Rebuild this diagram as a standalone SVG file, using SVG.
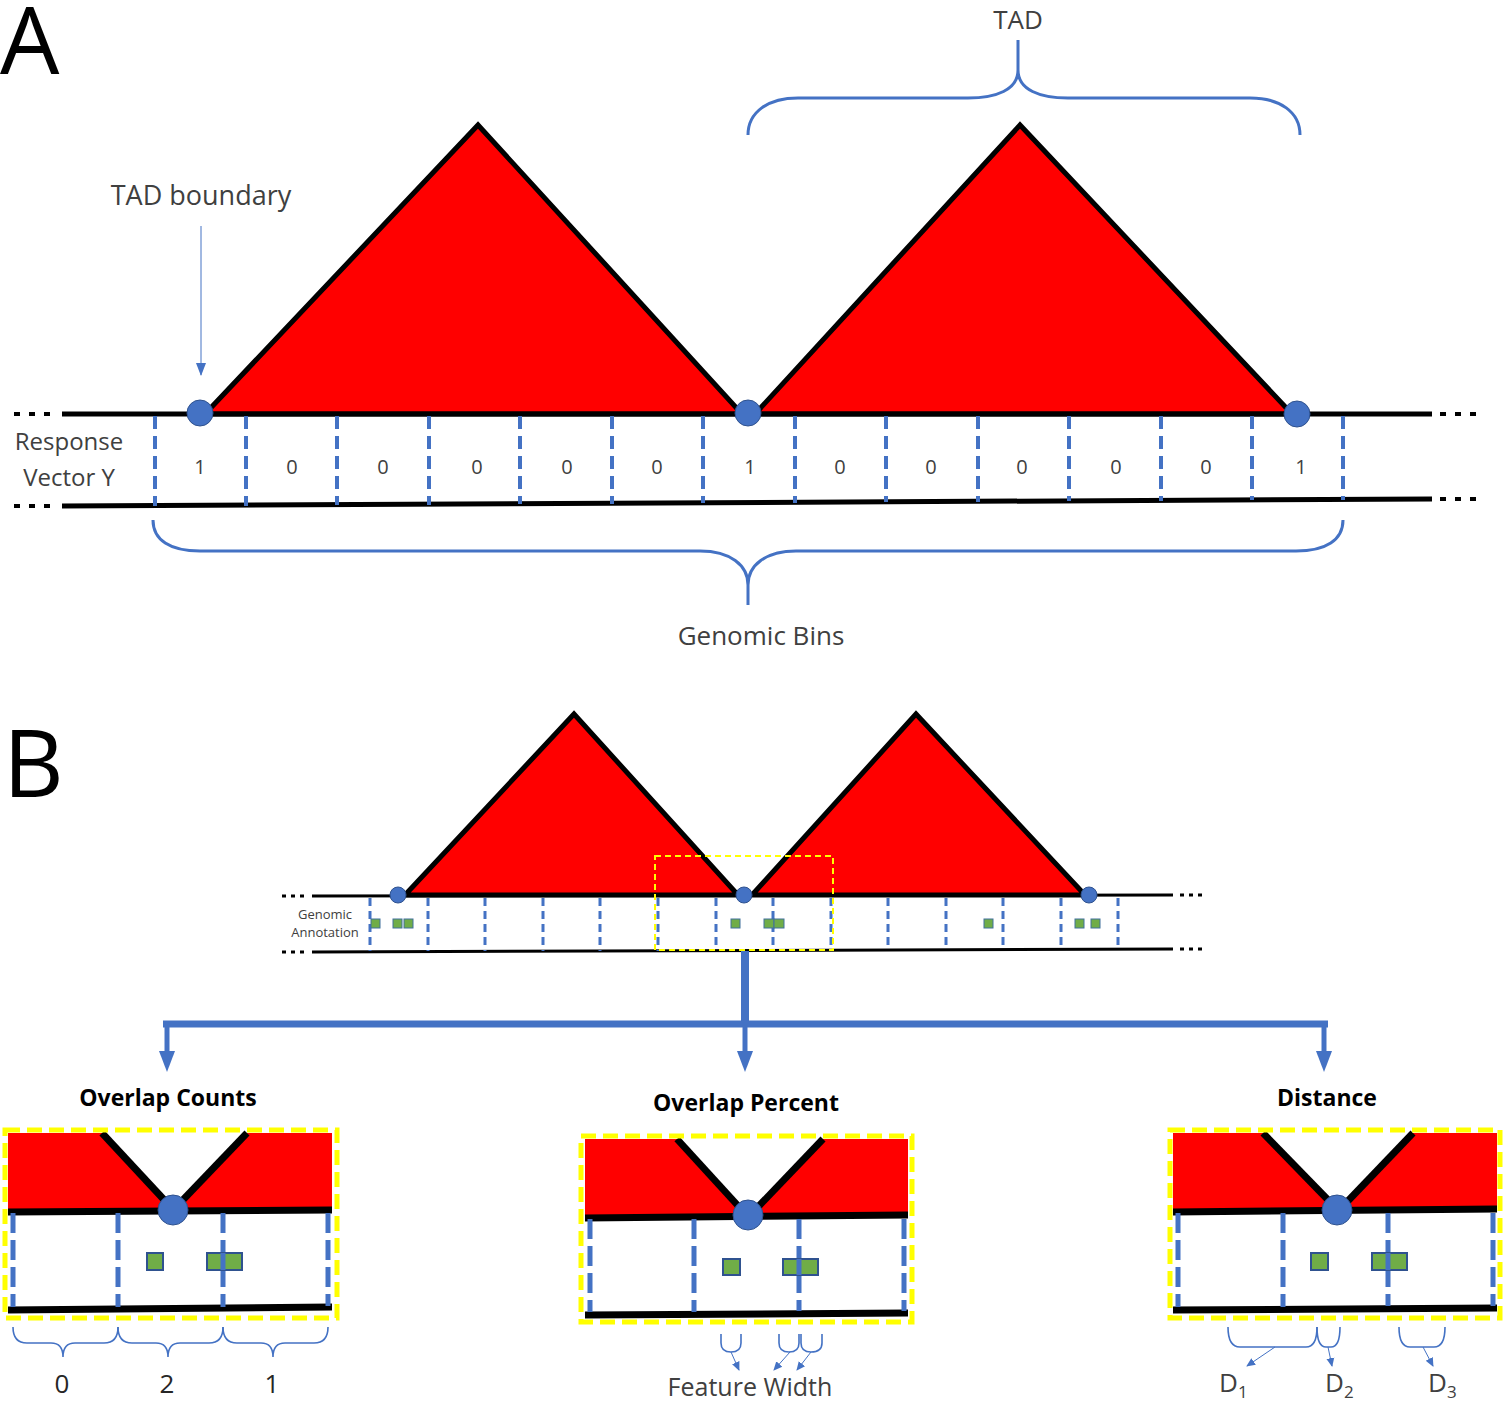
<svg xmlns="http://www.w3.org/2000/svg" width="1503" height="1401" viewBox="0 0 1503 1401">
<defs>
<style>
.t{font-family:"Open Sans",Lato,"Liberation Sans",sans-serif;fill:#404040}
.big{font-family:"Open Sans",Lato,"Liberation Sans",sans-serif;fill:#000;font-size:94px}
.ttl{font-family:"Open Sans",Lato,"Liberation Sans",sans-serif;fill:#000;font-size:23px;font-weight:bold}
.tri{fill:#FF0000;stroke:#000;stroke-width:5;stroke-linejoin:miter}
.blk{stroke:#000;fill:none}
.dots{stroke:#000;stroke-dasharray:6 9;fill:none}
.dashA{stroke:#4472C4;stroke-width:4;stroke-dasharray:13 7;fill:none}
.dashB{stroke:#4472C4;stroke-width:3;stroke-dasharray:8 5;fill:none}
.dashP{stroke:#4472C4;stroke-width:5;stroke-dasharray:20 7;fill:none}
.bnd{fill:#4472C4;stroke:#2F528F;stroke-width:1}
.gr{fill:#70AD47;stroke:#41719C;stroke-width:1}
.grp{fill:#70AD47;stroke:#2F528F;stroke-width:2}
.ylw{fill:none;stroke:#FFFF00;stroke-width:5;stroke-dasharray:15 7}
.brace{fill:none;stroke:#4472C4;stroke-width:1.6}
.brace2{fill:none;stroke:#4472C4;stroke-width:3}
.thin{stroke:#4472C4;stroke-width:1;fill:none}
</style>
<marker id="ah" markerWidth="10" markerHeight="10" refX="8" refY="5" orient="auto" markerUnits="userSpaceOnUse">
<path d="M0,1 L9,5 L0,9 Z" fill="#4472C4"/>
</marker>
<marker id="ah2" markerWidth="14" markerHeight="14" refX="12" refY="7" orient="auto" markerUnits="userSpaceOnUse">
<path d="M0,2 L13,7 L0,12 Z" fill="#4472C4"/>
</marker>
</defs>

<!-- Panel A -->
<g id="label-A"><text class="big" x="0" y="74">A</text></g>

<g id="A-tads">
<polygon class="tri" points="205,414 478,125 742,414"/>
<polygon class="tri" points="755,414 1020,125 1292,414"/>
</g>

<g id="A-track">
<line class="blk" x1="62" y1="414" x2="1432" y2="414" stroke-width="5"/>
<line class="blk" x1="62" y1="506" x2="1432" y2="499" stroke-width="5"/>
<line class="dots" x1="14" y1="414" x2="56" y2="414" stroke-width="4"/>
<line class="dots" x1="14" y1="506" x2="56" y2="506" stroke-width="4"/>
<line class="dots" x1="1440" y1="414" x2="1482" y2="414" stroke-width="4"/>
<line class="dots" x1="1440" y1="499" x2="1482" y2="499" stroke-width="4"/>
</g>

<g id="A-bins">
<line class="dashA" x1="155" y1="416" x2="155" y2="506"/>
<line class="dashA" x1="246" y1="416" x2="246" y2="506"/>
<line class="dashA" x1="337" y1="416" x2="337" y2="505"/>
<line class="dashA" x1="429" y1="416" x2="429" y2="505"/>
<line class="dashA" x1="520" y1="416" x2="520" y2="504"/>
<line class="dashA" x1="612" y1="416" x2="612" y2="504"/>
<line class="dashA" x1="703" y1="416" x2="703" y2="503"/>
<line class="dashA" x1="795" y1="416" x2="795" y2="503"/>
<line class="dashA" x1="886" y1="416" x2="886" y2="502"/>
<line class="dashA" x1="978" y1="416" x2="978" y2="502"/>
<line class="dashA" x1="1069" y1="416" x2="1069" y2="501"/>
<line class="dashA" x1="1161" y1="416" x2="1161" y2="501"/>
<line class="dashA" x1="1252" y1="416" x2="1252" y2="500"/>
<line class="dashA" x1="1343" y1="416" x2="1343" y2="500"/>
</g>

<g id="A-boundaries">
<circle class="bnd" cx="200" cy="413" r="13"/>
<circle class="bnd" cx="748" cy="413" r="13"/>
<circle class="bnd" cx="1297" cy="414" r="13"/>
</g>

<g id="A-values" class="t" font-size="20" text-anchor="middle">
<text x="200" y="474">1</text>
<text x="292" y="474">0</text>
<text x="383" y="474">0</text>
<text x="477" y="474">0</text>
<text x="567" y="474">0</text>
<text x="657" y="474">0</text>
<text x="750" y="474">1</text>
<text x="840" y="474">0</text>
<text x="931" y="474">0</text>
<text x="1022" y="474">0</text>
<text x="1116" y="474">0</text>
<text x="1206" y="474">0</text>
<text x="1301" y="474">1</text>
</g>

<g id="A-response-label" class="t" font-size="24" text-anchor="middle">
<text x="69" y="450">Response</text>
<text x="69" y="486">Vector Y</text>
</g>

<g id="A-tad-boundary-label">
<text class="t" font-size="27" x="201" y="205" text-anchor="middle">TAD boundary</text>
</g>

<g id="A-tad-label">
<text class="t" font-size="26" x="1018" y="29" text-anchor="middle">TAD</text>
</g>

<g id="A-genomic-bins-label">
<text class="t" font-size="26" x="761" y="645" text-anchor="middle">Genomic Bins</text>
</g>

<g id="A-connectors">
<line class="thin" x1="201" y1="226" x2="201" y2="375" stroke-width="1.6" marker-end="url(#ah2)"/>
<path class="brace2" d="M748,135 C748,112 768,98 798,98 L968,98 C996,98 1018,90 1018,70 L1018,40 M1018,70 C1018,90 1040,98 1068,98 L1250,98 C1280,98 1300,112 1300,135"/>
<path class="brace2" d="M153,520 C153,540 170,551 200,551 L700,551 C730,551 748,565 748,585 L748,605 M748,585 C748,565 766,551 796,551 L1296,551 C1326,551 1343,540 1343,520"/>
</g>

<!-- Panel B -->
<g id="label-B"><text class="big" x="3" y="797">B</text></g>

<g id="B-tads">
<polygon class="tri" points="405,895 574,714 738,895" stroke-width="3"/>
<polygon class="tri" points="752,895 916,714 1085,895" stroke-width="3"/>
</g>

<g id="B-track">
<line class="blk" x1="312" y1="896" x2="1173" y2="895" stroke-width="3"/>
<line class="blk" x1="312" y1="952" x2="1173" y2="949" stroke-width="3"/>
<line class="dots" x1="282" y1="896" x2="308" y2="896" stroke-width="3" style="stroke-dasharray:4 5"/>
<line class="dots" x1="282" y1="952" x2="308" y2="952" stroke-width="3" style="stroke-dasharray:4 5"/>
<line class="dots" x1="1180" y1="895" x2="1206" y2="895" stroke-width="3" style="stroke-dasharray:4 5"/>
<line class="dots" x1="1180" y1="949" x2="1206" y2="949" stroke-width="3" style="stroke-dasharray:4 5"/>
</g>

<g id="B-bins">
<line class="dashB" x1="370" y1="898" x2="370" y2="951"/>
<line class="dashB" x1="428" y1="898" x2="428" y2="951"/>
<line class="dashB" x1="485" y1="898" x2="485" y2="951"/>
<line class="dashB" x1="543" y1="898" x2="543" y2="951"/>
<line class="dashB" x1="600" y1="898" x2="600" y2="951"/>
<line class="dashB" x1="658" y1="898" x2="658" y2="951"/>
<line class="dashB" x1="716" y1="898" x2="716" y2="950"/>
<line class="dashB" x1="773" y1="898" x2="773" y2="950"/>
<line class="dashB" x1="831" y1="898" x2="831" y2="950"/>
<line class="dashB" x1="888" y1="898" x2="888" y2="950"/>
<line class="dashB" x1="946" y1="898" x2="946" y2="950"/>
<line class="dashB" x1="1003" y1="898" x2="1003" y2="949"/>
<line class="dashB" x1="1061" y1="898" x2="1061" y2="949"/>
<line class="dashB" x1="1118" y1="898" x2="1118" y2="949"/>
</g>

<g id="B-annotations">
<rect class="gr" x="371" y="919" width="9" height="9"/>
<rect class="gr" x="393" y="919" width="9" height="9"/>
<rect class="gr" x="404" y="919" width="9" height="9"/>
<rect class="gr" x="731" y="919" width="9" height="9"/>
<rect class="gr" x="764" y="919" width="10" height="9"/>
<rect class="gr" x="774" y="919" width="10" height="9"/>
<rect class="gr" x="984" y="919" width="9" height="9"/>
<rect class="gr" x="1075" y="919" width="9" height="9"/>
<rect class="gr" x="1091" y="919" width="9" height="9"/>
</g>

<g id="B-boundaries">
<circle class="bnd" cx="398" cy="895" r="8"/>
<circle class="bnd" cx="744" cy="895" r="8"/>
<circle class="bnd" cx="1089" cy="895" r="8"/>
</g>

<g id="B-annotation-label" class="t" font-size="13" text-anchor="middle">
<text x="325" y="919">Genomic</text>
<text x="325" y="937">Annotation</text>
</g>

<g id="B-zoom-box">
<rect x="655" y="856" width="178" height="94" fill="none" stroke="#FFFF00" stroke-width="2" stroke-dasharray="6 4"/>
</g>

<g id="B-connectors" fill="#4472C4">
<line x1="745" y1="951" x2="745" y2="1027" stroke="#4472C4" stroke-width="8"/>
<line x1="163" y1="1024" x2="1328" y2="1024" stroke="#4472C4" stroke-width="7"/>
<line x1="167" y1="1021" x2="167" y2="1054" stroke="#4472C4" stroke-width="5"/>
<line x1="745" y1="1021" x2="745" y2="1054" stroke="#4472C4" stroke-width="5"/>
<line x1="1324" y1="1021" x2="1324" y2="1054" stroke="#4472C4" stroke-width="5"/>
<polygon points="159,1051 175,1051 167,1072"/>
<polygon points="737,1051 753,1051 745,1072"/>
<polygon points="1316,1051 1332,1051 1324,1072"/>
</g>

<!-- Overlap Counts -->
<g id="panel-overlap-counts">
<text class="ttl" x="168" y="1106" text-anchor="middle">Overlap Counts</text>
<polygon points="8,1133 102,1133 173,1211 8,1211" fill="#FF0000"/>
<polygon points="247,1133 332,1133 332,1210 173,1210" fill="#FF0000"/>
<line class="blk" x1="102" y1="1133" x2="168" y2="1204" stroke-width="7"/>
<line class="blk" x1="247" y1="1133" x2="179" y2="1204" stroke-width="7"/>
<line class="blk" x1="8" y1="1212" x2="332" y2="1210" stroke-width="7"/>
<line class="blk" x1="8" y1="1310" x2="332" y2="1307" stroke-width="7"/>
<line class="dashP" x1="13" y1="1213" x2="13" y2="1307"/>
<line class="dashP" x1="118" y1="1213" x2="118" y2="1307"/>
<line class="dashP" x1="223" y1="1213" x2="223" y2="1307"/>
<line class="dashP" x1="328" y1="1213" x2="328" y2="1306"/>
<circle class="bnd" cx="173" cy="1210" r="15"/>
<rect class="grp" x="147" y="1253" width="16" height="17"/>
<rect class="grp" x="207" y="1253" width="17" height="17"/>
<rect class="grp" x="224" y="1253" width="18" height="17"/>
<line x1="223" y1="1253" x2="223" y2="1270" stroke="#4472C4" stroke-width="5"/>
<rect class="ylw" x="5" y="1130" width="332" height="188"/>
<path class="brace" d="M13,1327 Q13,1343 27,1343 L51,1343 Q63,1343 63,1357 Q63,1343 75,1343 L104,1343 Q118,1343 118,1327"/>
<path class="brace" d="M118,1327 Q118,1343 132,1343 L156,1343 Q168,1343 168,1357 Q168,1343 180,1343 L209,1343 Q223,1343 223,1327"/>
<path class="brace" d="M223,1327 Q223,1343 237,1343 L261,1343 Q273,1343 273,1357 Q273,1343 285,1343 L314,1343 Q328,1343 328,1327"/>
<g class="t" font-size="26" text-anchor="middle" style="fill:#262626">
<text x="62" y="1393">0</text>
<text x="167" y="1393">2</text>
<text x="272" y="1393">1</text>
</g>
</g>

<!-- Overlap Percent -->
<g id="panel-overlap-percent">
<text class="ttl" x="746" y="1111" text-anchor="middle">Overlap Percent</text>
<polygon points="585,1139 677,1139 748,1217 585,1217" fill="#FF0000"/>
<polygon points="823,1139 908,1139 908,1215 748,1215" fill="#FF0000"/>
<line class="blk" x1="677" y1="1139" x2="741" y2="1209" stroke-width="7"/>
<line class="blk" x1="823" y1="1139" x2="756" y2="1209" stroke-width="7"/>
<line class="blk" x1="585" y1="1218" x2="908" y2="1215" stroke-width="7"/>
<line class="blk" x1="585" y1="1315" x2="908" y2="1313" stroke-width="7"/>
<line class="dashP" x1="590" y1="1219" x2="590" y2="1312"/>
<line class="dashP" x1="694" y1="1219" x2="694" y2="1312"/>
<line class="dashP" x1="799" y1="1219" x2="799" y2="1311"/>
<line class="dashP" x1="904" y1="1219" x2="904" y2="1311"/>
<circle class="bnd" cx="748" cy="1215" r="15"/>
<rect class="grp" x="723" y="1259" width="17" height="16"/>
<rect class="grp" x="783" y="1259" width="17" height="16"/>
<rect class="grp" x="800" y="1259" width="18" height="16"/>
<line x1="799" y1="1259" x2="799" y2="1275" stroke="#4472C4" stroke-width="5"/>
<rect class="ylw" x="581" y="1136" width="331" height="186"/>
<path class="brace" d="M721,1334 L721,1343 Q721,1352 731,1352 Q741,1352 741,1343 L741,1334"/>
<path class="brace" d="M779,1334 L779,1343 Q779,1352 789,1352 Q799,1352 799,1343 L799,1334"/>
<path class="brace" d="M801,1334 L801,1343 Q801,1352 811,1352 Q822,1352 822,1343 L822,1334"/>
<line class="thin" x1="731" y1="1352" x2="739" y2="1370" marker-end="url(#ah)"/>
<line class="thin" x1="790" y1="1352" x2="774" y2="1370" marker-end="url(#ah)"/>
<line class="thin" x1="811" y1="1352" x2="797" y2="1370" marker-end="url(#ah)"/>
<text class="t" font-size="25" x="750" y="1396" text-anchor="middle">Feature Width</text>
</g>

<!-- Distance -->
<g id="panel-distance">
<text class="ttl" x="1327" y="1106" text-anchor="middle">Distance</text>
<polygon points="1173,1133 1263,1133 1338,1211 1173,1211" fill="#FF0000"/>
<polygon points="1413,1133 1497,1133 1497,1209 1338,1209" fill="#FF0000"/>
<line class="blk" x1="1263" y1="1133" x2="1332" y2="1204" stroke-width="7"/>
<line class="blk" x1="1413" y1="1133" x2="1345" y2="1204" stroke-width="7"/>
<line class="blk" x1="1173" y1="1212" x2="1497" y2="1209" stroke-width="7"/>
<line class="blk" x1="1173" y1="1310" x2="1497" y2="1308" stroke-width="7"/>
<line class="dashP" x1="1178" y1="1213" x2="1178" y2="1307"/>
<line class="dashP" x1="1283" y1="1213" x2="1283" y2="1307"/>
<line class="dashP" x1="1388" y1="1213" x2="1388" y2="1306"/>
<line class="dashP" x1="1493" y1="1213" x2="1493" y2="1306"/>
<circle class="bnd" cx="1337" cy="1210" r="15"/>
<rect class="grp" x="1311" y="1253" width="17" height="17"/>
<rect class="grp" x="1372" y="1253" width="17" height="17"/>
<rect class="grp" x="1389" y="1253" width="18" height="17"/>
<line x1="1388" y1="1253" x2="1388" y2="1270" stroke="#4472C4" stroke-width="5"/>
<rect class="ylw" x="1170" y="1130" width="330" height="188"/>
<path class="brace" d="M1228,1327 Q1228,1347 1240,1347 L1306,1347 Q1317,1347 1317,1327"/>
<path class="brace" d="M1317,1327 Q1317,1347 1326,1347 L1331,1347 Q1340,1347 1340,1327"/>
<path class="brace" d="M1399,1327 Q1399,1347 1410,1347 L1434,1347 Q1445,1347 1445,1327"/>
<line class="thin" x1="1275" y1="1347" x2="1247" y2="1366" marker-end="url(#ah)"/>
<line class="thin" x1="1328" y1="1347" x2="1332" y2="1366" marker-end="url(#ah)"/>
<line class="thin" x1="1423" y1="1347" x2="1433" y2="1366" marker-end="url(#ah)"/>
<g class="t" font-size="26">
<text x="1219" y="1392">D<tspan font-size="17" dy="6">1</tspan></text>
<text x="1325" y="1392">D<tspan font-size="17" dy="6">2</tspan></text>
<text x="1428" y="1392">D<tspan font-size="17" dy="6">3</tspan></text>
</g>
</g>
</svg>
